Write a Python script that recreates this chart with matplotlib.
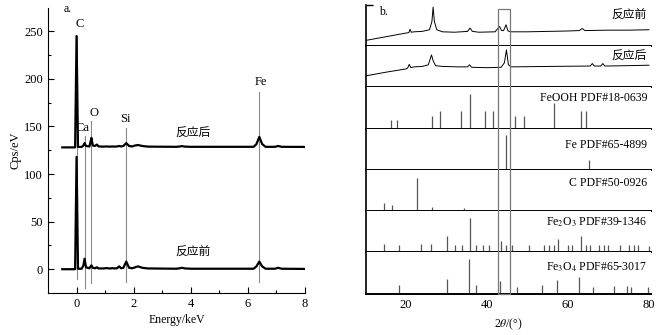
import matplotlib
matplotlib.use('Agg')
import matplotlib.pyplot as plt
import matplotlib.transforms as mtransforms
from matplotlib.patches import Rectangle

plt.rcParams['font.family'] = ['Liberation Serif', 'Noto Sans CJK SC']
plt.rcParams['mathtext.fontset'] = 'stix'
plt.rcParams['font.size'] = 9

# ---- a. EDS spectra (vertices) ----
eds_x = [-0.5, -0.05, 0.0, 0.05, 0.18, 0.24, 0.28, 0.33, 0.45, 0.49, 0.52, 0.57, 0.65,
         0.71, 0.77, 0.95, 1.05, 1.15, 1.2, 1.25, 1.32, 1.42, 1.49, 1.56, 1.64, 1.74,
         1.84, 1.95, 2.05, 2.15, 2.3, 2.5, 3.5, 3.62, 3.7, 3.8, 4.0, 6.2, 6.3, 6.4,
         6.5, 6.62, 6.95, 7.06, 7.18, 8.0]
eds_before = [0, 0, 118, 0.5, 0.5, 4, 11, 2, 1, 3, 4, 1.5, 1,
              2, 0.8, 0.8, 1.2, 0.8, 0.8, 1.2, 0.8, 1, 3, 1, 1.5, 8,
              1.5, 1, 2, 3, 1.5, 0.8, 0.5, 1, 1.5, 0.8, 0.5, 0.5, 3, 8,
              3, 0.5, 0.5, 1.5, 0.5, 0.3]
eds_after = [128, 128, 245, 128.5, 128.5, 130, 132.5, 129.5, 129, 134, 138, 130, 129.5,
             131, 129, 128.8, 129, 128.8, 128.8, 129, 128.8, 129, 129.5, 129, 129.5, 132.5,
             129.5, 129, 130, 130.5, 129.5, 128.8, 128.6, 129, 129.3, 128.8, 128.6, 128.6, 131.5, 139,
             131.5, 128.6, 128.6, 129.5, 128.6, 128.5]

elem_names = ['C', 'Ca', 'O', 'Si', 'Fe']
elem_pos = [0.0, 0.28, 0.52, 1.74, 6.4]
elem_line_top = [245, 140, 156, 148, 186]
elem_line_bottom = [-10, -20, -14, -13, -13]
elem_label_xy = [(0.12, 258), (0.2, 148), (0.6, 164), (1.72, 158), (6.45, 197)]

# ---- b. XRD patterns ----
xrd_before_x = [10, 15, 20, 20.7, 21, 21.3, 22, 24, 25.8, 26.4, 26.7, 27.0, 27.6, 29, 32,
                35.2, 35.8, 36.4, 38, 42.0, 42.6, 43.1, 43.6, 44.1, 44.7, 45.2, 46, 50, 55,
                60, 62.8, 63.5, 64.2, 70, 75, 80]
xrd_before_y = [0.14, 0.23, 0.32, 0.33, 0.41, 0.34, 0.35, 0.36, 0.40, 0.60, 0.95, 0.60, 0.40,
                0.35, 0.34, 0.36, 0.44, 0.36, 0.34, 0.35, 0.42, 0.48, 0.38, 0.38, 0.52, 0.37,
                0.35, 0.35, 0.36, 0.37, 0.38, 0.43, 0.38, 0.39, 0.39, 0.40]
xrd_after_x = [10, 15, 20, 20.4, 20.8, 21.2, 22, 24, 25.5, 26.0, 26.3, 26.7, 27.3, 29, 33,
               35.2, 35.7, 36.2, 40, 43.5, 44.3, 44.8, 45.3, 46, 55, 65.5, 66, 66.5, 68.1,
               68.6, 69.1, 75, 80]
xrd_after_y = [0.28, 0.37, 0.45, 0.47, 0.56, 0.48, 0.50, 0.51, 0.55, 0.70, 0.79, 0.65, 0.53,
               0.51, 0.50, 0.50, 0.55, 0.49, 0.48, 0.49, 0.60, 0.91, 0.55, 0.50, 0.51, 0.52,
               0.58, 0.52, 0.52, 0.58, 0.52, 0.53, 0.54]

feooh_pos = [16.2, 17.9, 26.5, 28.4, 33.5, 35.9, 39.6, 41.4, 46.8, 49.1, 56.6, 63.1, 64.5]
feooh_h = [0.20, 0.20, 0.30, 0.43, 0.43, 0.84, 0.43, 0.43, 0.30, 0.30, 0.63, 0.43, 0.43]
fe_pos = [44.7, 65.2]
fe_h = [0.84, 0.24]
c_pos = [14.6, 16.5, 22.6, 26.5, 29.3, 34.3]
c_h = [0.19, 0.15, 0.81, 0.10, 0.04, 0.07]
fe2o3_pos = [14.6, 18.2, 23.6, 26.1, 30.2, 32.2, 33.9, 35.7, 37.2, 38.9, 40.5, 43.4, 44.7,
             46.2, 50.4, 54.0, 55.3, 56.5, 57.6, 59.9, 61.1, 63.2, 64.5, 65.5, 67.7, 68.8,
             69.8, 72.8, 75.1, 76.3, 77.3, 79.9]
fe2o3_h = [0.20, 0.19, 0.20, 0.20, 0.40, 0.18, 0.18, 0.83, 0.18, 0.18, 0.18, 0.27, 0.18,
           0.18, 0.18, 0.18, 0.18, 0.18, 0.32, 0.18, 0.18, 0.40, 0.18, 0.18, 0.18, 0.18,
           0.18, 0.18, 0.18, 0.18, 0.18, 0.16]
fe3o4_pos = [18.3, 30.1, 35.5, 37.2, 43.3, 47.4, 53.7, 57.4, 62.8, 66.2, 71.4, 74.5, 75.5, 79.7]
fe3o4_h = [0.20, 0.35, 0.83, 0.22, 0.31, 0.16, 0.22, 0.34, 0.40, 0.16, 0.19, 0.19, 0.16, 0.16]

ref_labels = ['FeOOH PDF#18-0639', 'Fe PDF#65-4899', 'C PDF#50-0926',
              r'Fe$_2$O$_3$ PDF#39-1346', r'Fe$_3$O$_4$ PDF#65-3017']
ref_label_y = [0.75, 0.61, 0.68, 0.73, 0.63]

W, H = 671, 335
fig = plt.figure(figsize=(W / 100, H / 100), dpi=100)

# ---------------- panel a ----------------
ax = fig.add_axes([48 / W, 1 - 293 / H, (305 - 48) / W, (293 - 7.5) / H])
for p, lo, hi in zip(elem_pos, elem_line_bottom, elem_line_top):
    ax.plot([p, p], [lo, hi], color='#8a8a8a', lw=0.8, zorder=1)
ax.plot(eds_x, eds_before, color='black', lw=1.6, zorder=2)
ax.plot(eds_x, eds_after, color='black', lw=1.6, zorder=2)
for name, (tx, ty) in zip(elem_names, elem_label_xy):
    ax.text(tx, ty, name, ha='center', va='center', fontsize=9)
ax.text(4.07, 143, '反应后', ha='center', va='center', fontsize=8.5,
        family=['Noto Sans CJK SC'])
ax.text(4.07, 18, '反应前', ha='center', va='center', fontsize=8.5,
        family=['Noto Sans CJK SC'])
ax.text(-0.3, 273, 'a.', ha='center', va='center', fontsize=8.5)
ax.set_xlim(-1, 8)
ax.set_ylim(-25, 275)
ax.set_xticks([0, 2, 4, 6, 8])
ax.set_xticks([1, 3, 5, 7], minor=True)
ax.set_yticks([0, 50, 100, 150, 200, 250])
ax.set_yticks([25, 75, 125, 175, 225], minor=True)
ax.tick_params(direction='in', length=4, width=0.8, labelsize=9)
ax.tick_params(which='minor', direction='in', length=2.5, width=0.8)
ax.spines['top'].set_visible(False)
ax.spines['right'].set_visible(False)
ax.set_xlabel('Energy/keV', fontsize=8.5, labelpad=3)
ax.set_ylabel('Cps/eV', fontsize=9, labelpad=2)

# ---------------- panel b ----------------
top, bottom = 1 - 5 / H, 1 - 293.7 / H
ph = (top - bottom) / 7
left_b = 365.5 / W
width_b = (651 - 365.5) / W
axes = []
for i in range(7):
    a = fig.add_axes([left_b, top - (i + 1) * ph, width_b, ph])
    a.set_xlim(10, 80.5)
    a.set_ylim(0, 1)
    a.spines['top'].set_visible(False)
    a.spines['right'].set_visible(False)
    a.spines['bottom'].set_linewidth(1.4)
    a.spines['left'].set_linewidth(1.2)
    a.set_yticks([])
    a.set_xticks([20, 40, 60, 80])
    a.set_xticks([80], minor=True)
    a.tick_params(axis='x', which='major', length=0, labelsize=9, labelbottom=(i == 6))
    a.tick_params(axis='x', which='minor', direction='in', length=3, width=1.2)
    axes.append(a)

axes[0].set_yticks([1])
axes[0].set_yticklabels([])
axes[0].tick_params(axis='y', direction='in', length=5, width=1.0)

axes[0].plot(xrd_before_x, xrd_before_y, color='black', lw=0.7)
axes[0].text(79.5, 0.76, '反应前', ha='right', va='center', fontsize=8.5,
             family=['Noto Sans CJK SC'])
axes[0].text(14.5, 0.82, 'b.', ha='center', va='center', fontsize=8.5)
axes[1].plot(xrd_after_x, xrd_after_y, color='black', lw=0.7)
axes[1].text(79.5, 0.75, '反应后', ha='right', va='center', fontsize=8.5,
             family=['Noto Sans CJK SC'])

ref_sets = [(feooh_pos, feooh_h), (fe_pos, fe_h), (c_pos, c_h),
            (fe2o3_pos, fe2o3_h), (fe3o4_pos, fe3o4_h)]
for a, (pos, hh), lab, ly in zip(axes[2:], ref_sets, ref_labels, ref_label_y):
    a.vlines(pos, 0, hh, color='#555555', lw=0.9)
    a.text(79.6, ly, lab, ha='right', va='center', fontsize=8.5)

axes[-1].set_xlabel(r'2$\theta$/(°)', fontsize=8.5, labelpad=4)

blend = mtransforms.blended_transform_factory(axes[-1].transData, fig.transFigure)
box = Rectangle((42.6, bottom), 45.6 - 42.6, (1 - 9.3 / H) - bottom, transform=blend,
                fill=False, edgecolor='#777777', lw=0.9, clip_on=False)
fig.add_artist(box)

fig.savefig('out.png', dpi=100)
